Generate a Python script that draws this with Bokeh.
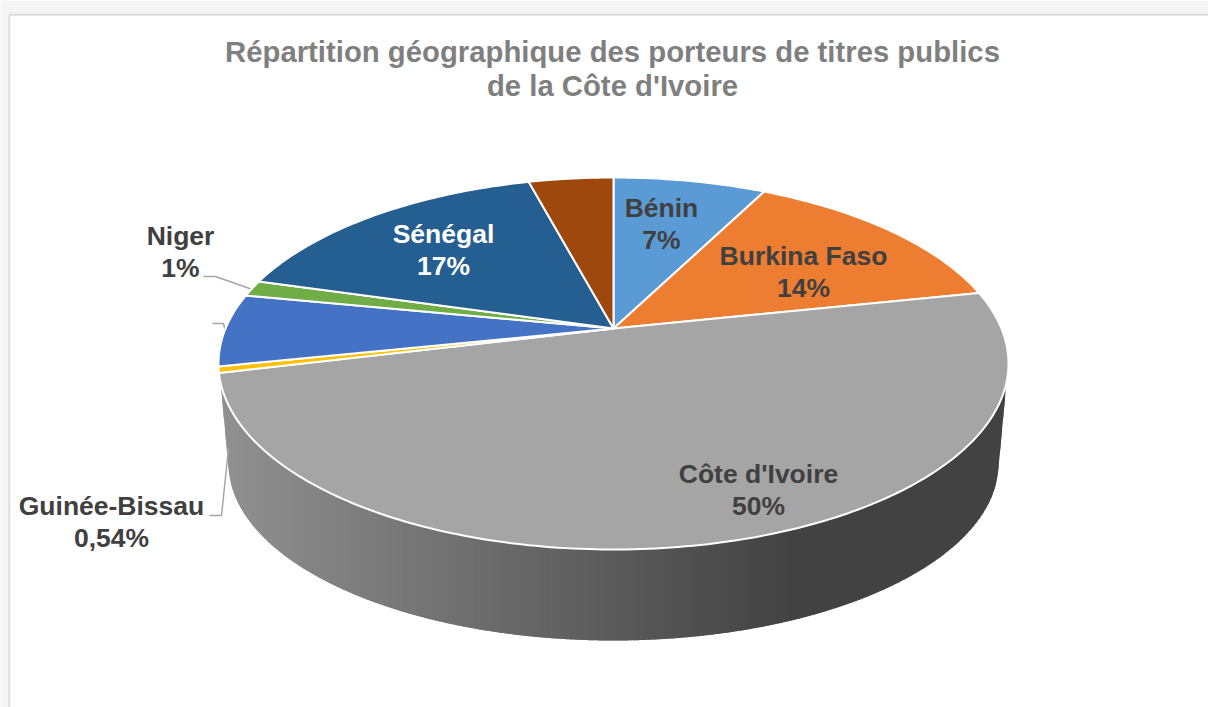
import numpy as np
from bokeh.plotting import figure
from bokeh.core.properties import value
from bokeh.embed import file_html
from bokeh.resources import INLINE

# ---- data ----
countries = ["Bénin", "Burkina Faso", "Côte d'Ivoire", "Guinée-Bissau", "Mali", "Niger", "Sénégal", "Togo"]
shares = [7.5, 14.2, 49.5, 0.54, 6.3, 1.4, 16.4, 4.16]
slice_colors = ["#5B9BD5", "#ED7D31", "#A5A5A5", "#FFC000", "#4472C4", "#70AD47", "#255E91", "#9E480E"]
title_lines = ["Répartition géographique des porteurs de titres publics", "de la Côte d'Ivoire"]
label_lines = ["Bénin", "7%", "Burkina Faso", "14%", "Côte d'Ivoire", "50%", "Sénégal", "17%", "Niger", "1%", "Guinée-Bissau", "0,54%"]
label_colors = ["#404040"] * 6 + ["#FFFFFF"] * 2 + ["#404040"] * 4

# ---- layout: page pixel coordinates ----
AX, AY = 613.0, 328.0            # apex of the slices
TOP, BOT, HALF = 151.0, 221.0, 395.0
K = (BOT - TOP) / (BOT + TOP)
S = TOP * (1 + K)
R = HALF * np.sqrt(1 - K ** 2)
CY = AY + (BOT - TOP) / 2        # centre of the top ellipse
WALL_CY, WALL_RX, WALL_RY = 463.0, 385.0, 177.0


def rim(turn):
    """position on the perspective rim for a fraction of the whole pie"""
    t = 2 * np.pi * np.asarray(turn)
    d = 1 + K * np.cos(t)
    return AX + R * np.sin(t) / d, AY - S * np.cos(t) / d


p = figure(width=1208, height=707, x_range=(0, 1208), y_range=(707, 0),
           output_backend="svg", toolbar_location=None, min_border=0)
p.axis.visible = False
p.grid.visible = False
p.outline_line_color = None
p.background_fill_color = "#FFFFFF"
p.border_fill_color = "#FFFFFF"

# frame of the screenshot
p.quad(left=[0, 0], right=[1208, 8], top=[0, 0], bottom=[13.5, 707], fill_color="#F5F5F5", line_color=None)
p.line([8.8, 8.8, 1208], [707, 14.2, 14.2], line_color="#DCDCDC", line_width=2)

# side wall: grey gradient built from overlapping vertical strips
xs_edges = np.arange(AX - HALF + 1, AX + HALF - 0.5, 3.0)


def wall_top(x):
    q = np.clip((x - AX) / HALF, -1, 1)
    return CY + (BOT + TOP) / 2 * np.sqrt(1 - q ** 2)


def wall_bottom(x):
    dx = np.abs(x - AX)
    tx = WALL_RX * 0.9988
    ty = WALL_CY + 9.0
    q = np.minimum(dx / WALL_RX, 1)
    inner = WALL_CY + WALL_RY * np.sqrt(1 - q ** 2)
    x_tip = HALF - 2
    y_tip = wall_top(AX + x_tip)
    line = ty + (y_tip - ty) * (dx - tx) / (x_tip - tx)
    return np.where(dx <= tx, inner, line)


def wall_grey(x):
    f = np.clip((x - 225) / (790 - 225), 0, 1)
    g = 0x90 + (0x42 - 0x90) * f
    h = int(round(float(g)))
    return "#%02x%02x%02x" % (h, h, h)


def wall_strip(a, b):
    sx = np.linspace(a, b, 4)
    tops = wall_top(sx) - 2
    bots = wall_bottom(sx)
    return list(sx) + list(sx[::-1]), list(tops) + list(bots[::-1])


strip_x, strip_y, strip_c = [], [], []
for a, b in zip(xs_edges[:-1], xs_edges[1:]):
    sx, sy = wall_strip(a, min(b + 2, xs_edges[-1]))
    strip_x.append(sx)
    strip_y.append(sy)
    strip_c.append(wall_grey((a + b) / 2))
p.patches(strip_x, strip_y, fill_color=strip_c, line_color=None)

# leader lines (behind the top face)
p.line([203, 215, 252], [276, 276, 289], line_color="#A6A6A6", line_width=1.5)
p.line([212, 223, 225], [323, 323, 331], line_color="#A6A6A6", line_width=1.5)
p.line([209, 221, 228], [515, 515, 448], line_color="#A6A6A6", line_width=1.5)

# top face
cum = np.concatenate([[0], np.cumsum(shares)]) / np.sum(shares)
xs, ys = [], []
for a, b in zip(cum[:-1], cum[1:]):
    n = max(4, int((b - a) * 400))
    rx, ry = rim(np.linspace(a, b, n))
    xs.append([AX] + list(rx))
    ys.append([AY] + list(ry))
p.patches(xs, ys, fill_color=slice_colors, line_color="#FFFFFF", line_width=2, line_join="round")

# texts
FONT = value("Liberation Sans")
p.text([612, 612], [51, 85], text=title_lines, text_align="center", text_baseline="middle",
       text_font=FONT, text_font_style="bold", text_font_size="29.3px", text_color="#7F7F7F")
lx = [661, 661, 803, 803, 758, 758, 443, 443, 180, 180, 111, 111]
ly = [207, 239, 255, 287, 473, 505, 233, 265, 235, 267, 505, 537]
p.text(lx, ly, text=label_lines, text_align="center", text_baseline="middle",
       text_font=FONT, text_font_style="bold", text_font_size="26.5px", text_color=label_colors)

open("out.html", "w").write(file_html(p, INLINE))
